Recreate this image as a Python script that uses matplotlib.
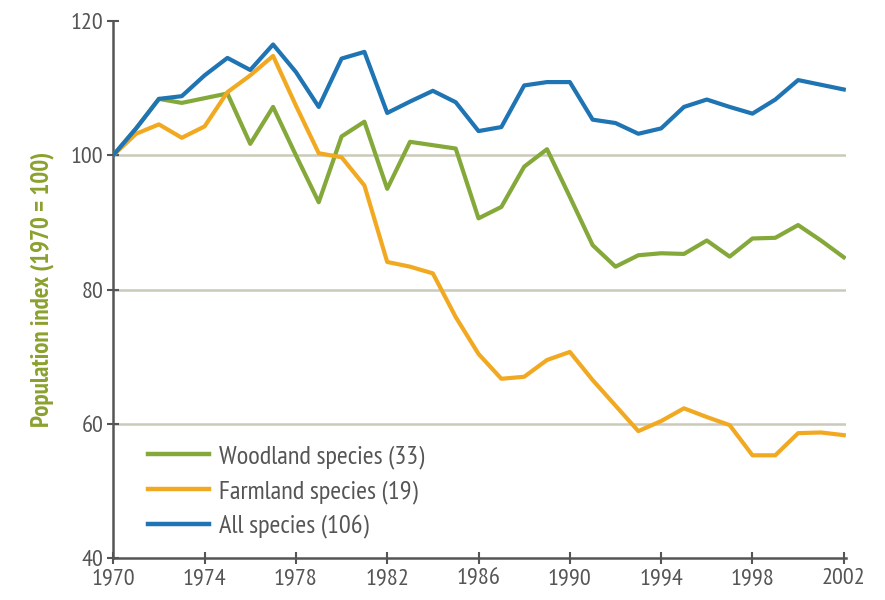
import matplotlib.pyplot as plt

plt.rcParams['font.family'] = ['PT Sans Narrow', 'DejaVu Sans']

years = list(range(1970, 2003))

woodland = [100, 104.0, 108.4, 107.8, 108.5, 109.2, 101.7, 107.2, 100.0, 93.0,
            102.8, 105.0, 95.0, 102.0, 101.5, 101.0, 90.6, 92.3, 98.3, 100.9,
            93.8, 86.6, 83.4, 85.1, 85.4, 85.3, 87.3, 84.9, 87.6, 87.7,
            89.6, 87.3, 84.8]
farmland = [100, 103.2, 104.6, 102.6, 104.3, 109.4, 111.9, 114.8, 107.4, 100.3,
            99.7, 95.5, 84.1, 83.4, 82.4, 75.9, 70.4, 66.7, 67.0, 69.5,
            70.7, 66.5, 62.7, 58.9, 60.4, 62.3, 61.0, 59.8, 55.3, 55.3,
            58.6, 58.7, 58.3]
all_species = [100, 104.0, 108.4, 108.8, 111.9, 114.5, 112.7, 116.5, 112.4, 107.2,
               114.4, 115.4, 106.3, 108.0, 109.6, 107.9, 103.6, 104.2, 110.4, 110.9,
               110.9, 105.3, 104.8, 103.2, 104.0, 107.2, 108.3, 107.2, 106.2, 108.3,
               111.2, 110.5, 109.8]

labels = ['Woodland species (33)', 'Farmland species (19)', 'All species (106)']
colors = ['#84a83a', '#f2a922', '#1f74b3']

fig = plt.figure(figsize=(8.85, 6), dpi=100)
ax = fig.add_axes([0.128, 0.07, 0.828, 0.895])

# light horizontal guide lines
for yv in [60, 80, 100]:
    ax.axhline(yv, color='#c9cbb8', lw=1.8, zorder=1)

for series, lab, col in zip([woodland, farmland, all_species], labels, colors):
    ax.plot(years, series, color=col, lw=3, label=lab, zorder=3)

ax.set_xlim(1970, 2002.1)
ax.set_ylim(40, 120)
ax.set_xticks(range(1970, 2003, 4))
ax.set_yticks([40, 60, 80, 100, 120])

for s in ['top', 'right']:
    ax.spines[s].set_visible(False)
for s in ['left', 'bottom']:
    ax.spines[s].set_color('#555555')
    ax.spines[s].set_linewidth(1.8)
ax.tick_params(direction='inout', length=8, width=1.5, color='#555555',
               labelsize=17.5, labelcolor='#555555', pad=3)

ax.set_ylabel('Population index (1970 = 100)', color='#8aa12e', fontsize=18,
              fontweight='bold', labelpad=12)

leg = ax.legend(loc='center left', bbox_to_anchor=(0.015, 0.123), frameon=False,
                fontsize=19, handlelength=2.3, handletextpad=0.4,
                labelspacing=0.42, labelcolor='#555555')
for line in leg.get_lines():
    line.set_linewidth(3.2)

fig.savefig('out.png', dpi=100)
